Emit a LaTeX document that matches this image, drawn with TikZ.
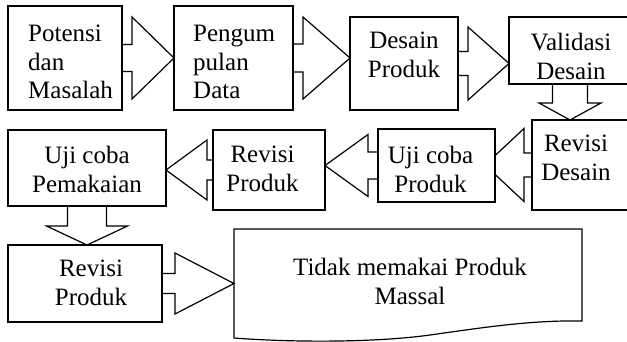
\documentclass[tikz,border=0pt]{standalone}
\usepackage{fontspec}
\setmainfont{Liberation Serif}
\usetikzlibrary{backgrounds,calc}

\tikzset{
    kotak/.style={draw, fill=white, line width=1.2pt, inner sep=0pt, outer sep=0pt, anchor=north west},
    teks/.style={inner sep=0pt, anchor=north, align=center, font=\fontsize{25}{28.5}\selectfont},
    panah/.style={draw, fill=white, line width=1.2pt}
}

\begin{document}
\begin{tikzpicture}[x=1pt, y=-1pt]
    \useasboundingbox (0,0) rectangle (627,341);
    \clip (0,0) rectangle (627,341);

    % baris atas
    \node[kotak, minimum width=114, minimum height=104] (potensi) at (8,6) {};

    \node[kotak, minimum width=119, minimum height=104] (pengumpulan) at (174,6) {};

    \node[kotak, minimum width=108, minimum height=93] (desain) at (350,17) {};

    \node[kotak, minimum width=122, minimum height=67] (validasi) at (509,17) {};

    % baris tengah
    \node[kotak, minimum width=108, minimum height=90] (revisiD) at (532,120) {};

    \node[kotak, minimum width=117, minimum height=73] (ujiP) at (378,129) {};

    \node[kotak, minimum width=112, minimum height=80] (revisiP) at (213,130) {};

    \node[kotak, minimum width=158, minimum height=76] (pemakaian) at (8,130) {};

    % baris bawah
    \node[kotak, minimum width=154, minimum height=77] (revisiP2) at (8,245) {};

    \node[inner sep=0pt, outer sep=0pt, anchor=north west, minimum width=348, minimum height=109] (massal) at (234,229) {};

    \draw[line width=1.2pt] (massal.north west) -- (massal.north east) -- ($(massal.north east)+(0,92)$) .. controls (530,320) and (480,328) .. (430,335) .. controls (380,342) and (300,343) .. (massal.south west) -- cycle;

    % tulisan
    \node[teks, anchor=north west, align=left] (potensiT) at (28,25) {Potensi\\dan\\Masalah};

    \node[teks, anchor=north west, align=left] (pengumpulanT) at (193,25) {Pengum\\pulan\\Data};

    \node[teks] (desainT) at (404,32) {Desain\\Produk};

    \node[teks] (validasiT) at (571,33) {Validasi\\Desain};

    \node[teks] (revisiDT) at (576,135) {Revisi\\Desain};

    \node[teks] (ujiPT) at (430.5,146) {Uji coba\\Produk};

    \node[teks] (revisiPT) at (262.5,146) {Revisi\\Produk};

    \node[teks] (pemakaianT) at (87,146) {Uji coba\\Pemakaian};

    \node[teks] (revisiP2T) at (91,260) {Revisi\\Produk};

    \node[teks] (massalT) at (410,258) {Tidak memakai Produk\\Massal};

    % panah blok di belakang kotak
    \begin{pgfonlayer}{background}
        \coordinate (u2) at (desain.west |- pengumpulan.east);
        \coordinate (u3) at (validasi.west |- desain.east);
        \coordinate (u4) at (validasi.south |- revisiD.north);
        \coordinate (u5) at ($(ujiP.east |- revisiD.west)+(-10,0)$);
        \coordinate (u6) at (revisiP.east |- ujiP.west);
        \coordinate (u7) at (pemakaian.east |- revisiP.west);
        \coordinate (u8) at (pemakaian.south |- revisiP2.north);
        \coordinate (u9) at (massal.west |- revisiP2.east);

        \draw[panah] ($(potensi.east)+(-10,-13.5)$) -- ($(pengumpulan.west)+(-42,-13.5)$) -- ++(0,-27.5) -- (pengumpulan.west) -- ($(pengumpulan.west)+(-42,41)$) -- ++(0,-27.5) -- ($(potensi.east)+(-10,13.5)$) -- cycle;

        \draw[panah] ($(pengumpulan.east)+(-10,-14)$) -- ($(u2)+(-47,-14)$) -- ++(0,-27) -- (u2) -- ($(u2)+(-47,41)$) -- ++(0,-27) -- ($(pengumpulan.east)+(-10,14)$) -- cycle;

        \draw[panah] ($(desain.east)+(-10,-12)$) -- ($(u3)+(-41,-12)$) -- ++(0,-24.5) -- (u3) -- ($(u3)+(-41,36.5)$) -- ++(0,-24.5) -- ($(desain.east)+(-10,12)$) -- cycle;

        \draw[panah] ($(validasi.south)+(-17.5,-10)$) -- ($(u4)+(-17.5,-17)$) -- ++(-13.5,0) -- (u4) -- ($(u4)+(31,-17)$) -- ++(-13.5,0) -- ($(validasi.south)+(17.5,-10)$) -- cycle;

        \draw[panah] ($(revisiD.west)+(10,-12)$) -- ($(u5)+(39,-12)$) -- ++(0,-24.5) -- (u5) -- ($(u5)+(39,36.5)$) -- ++(0,-24.5) -- ($(revisiD.west)+(10,12)$) -- cycle;

        \draw[panah] ($(ujiP.west)+(10,-13.5)$) -- ($(u6)+(43,-13.5)$) -- ++(0,-17.5) -- (u6) -- ($(u6)+(43,31)$) -- ++(0,-17.5) -- ($(ujiP.west)+(10,13.5)$) -- cycle;

        \draw[panah] ($(revisiP.west)+(10,-10)$) -- ($(u7)+(41,-10)$) -- ++(0,-20) -- (u7) -- ($(u7)+(41,30)$) -- ++(0,-20) -- ($(revisiP.west)+(10,10)$) -- cycle;

        \draw[panah] ($(pemakaian.south)+(-19.5,-10)$) -- ($(u8)+(-19.5,-19)$) -- ++(-21,0) -- (u8) -- ($(u8)+(40.5,-19)$) -- ++(-21,0) -- ($(pemakaian.south)+(19.5,-10)$) -- cycle;

        \draw[panah] ($(revisiP2.east)+(-10,-10)$) -- ($(u9)+(-59,-10)$) -- ++(0,-20.5) -- (u9) -- ($(u9)+(-59,30.5)$) -- ++(0,-20.5) -- ($(revisiP2.east)+(-10,10)$) -- cycle;
    \end{pgfonlayer}
\end{tikzpicture}
\end{document}
